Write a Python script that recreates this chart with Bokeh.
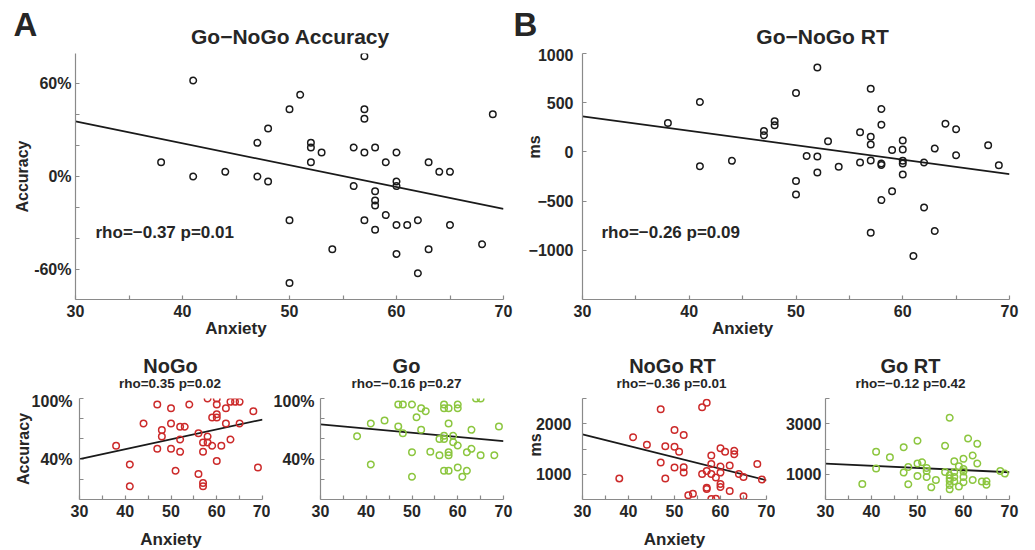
from bokeh.plotting import figure
from bokeh.models import Range1d, FixedTicker, Label, LinearAxis
from bokeh.layouts import column, row
from bokeh.embed import file_html
from bokeh.resources import INLINE

FONT = "Liberation Sans"
TXT = "#262626"
AXC = "#8a8a8a"

# ---------------- data ----------------
fit_x = [30, 70]
x_ticks = [30, 35, 40, 45, 50, 55, 60, 65, 70]
x_labels = ["30", "", "40", "", "50", "", "60", "", "70"]

# A: Go-NoGo Accuracy (%)
A_x = [57, 41, 51, 50, 57, 57, 69, 48, 47, 52, 52, 53, 56, 57, 58, 60, 38, 52, 59, 63, 41, 44, 47, 48, 64, 65,
       56, 60, 60, 58, 58, 58, 59, 50, 57, 58, 60, 61, 62, 65, 54, 60, 63, 68, 62, 50]
A_y = [77.6, 61.9, 52.7, 43.4, 43.4, 37.2, 40.2, 31.0, 21.7, 21.7, 18.7, 15.5, 18.7, 15.5, 18.7, 15.5, 9.2, 9.2,
       9.2, 9.2, 0, 3.0, 0, -3.2, 3.0, 3.0, -6.2, -3.2, -6.2, -9.5, -15.5, -18.7, -24.9, -28.2, -28.2, -34.4,
       -31.2, -31.2, -28.2, -31.2, -46.9, -49.9, -46.9, -43.7, -62.4, -68.6]
A_fit = [35.5, -20.9]
A_yticks = [-60, -40, -20, 0, 20, 40, 60]
A_ylabels = ["-60%", "", "", "0%", "", "", "60%"]

# B: Go-NoGo RT (ms)
B_x = [52, 57, 50, 41, 58, 38, 47, 47, 48, 48, 64, 65, 58, 56, 57, 57, 53, 60, 59, 60, 63, 68, 51, 52, 65, 41,
       44, 56, 57, 58, 58, 60, 60, 62, 54, 69, 52, 60, 50, 50, 59, 58, 62, 57, 63, 61]
B_y = [858, 642, 598, 507, 436, 294, 213, 169, 311, 270, 287, 230, 277, 199, 155, 74, 108, 115, 20, 24, 34, 68,
       -41, -47, -34, -145, -91, -108, -88, -118, -132, -91, -118, -108, -152, -135, -209, -230, -297, -432,
       -399, -490, -564, -821, -804, -1057]
B_fit = [361, -226]
B_yticks = [-1000, -500, 0, 500, 1000]
B_ylabels = ["\u22121000", "\u2212500", "0", "500", "1000"]

# NoGo accuracy (%)
N_x = [47, 50, 54, 58, 60, 60, 60, 60, 59, 62, 63, 64, 65, 68, 44, 50, 52, 53, 48, 48, 62, 65, 56, 58, 52, 57,
       58, 59, 61, 63, 38, 47, 50, 52, 57, 60, 41, 51, 56, 69, 41, 57, 57]
N_y = [94.1, 90.4, 94.1, 100, 100, 94.1, 84.5, 81.2, 81.2, 90.4, 96.7, 96.7, 96.7, 87.5, 75.3, 75.3, 72.0, 72.0,
       68.7, 62.4, 75.3, 75.3, 65.7, 62.4, 59.4, 56.5, 56.5, 53.2, 53.2, 59.4, 53.2, 50.2, 50.2, 47.2, 47.2, 38.0,
       34.7, 28.5, 25.2, 31.8, 13.0, 16.3, 13.0]
N_fit = [40.0, 79.2]

# Go accuracy (%)
G_x = [47, 48, 50, 52, 53, 51, 57, 57, 58, 60, 60, 64, 65, 41, 44, 47, 48, 52, 58, 63, 69, 38, 56, 57, 57, 59,
       59, 60, 50, 54, 56, 58, 58, 62, 63, 65, 68, 41, 60, 57, 58, 62, 50, 61]
G_y = [94.1, 94.1, 94.1, 90.4, 87.5, 81.5, 94.1, 90.4, 90.4, 94.1, 90.4, 100, 100, 75.3, 78.2, 72.3, 65.7, 69.0,
       75.3, 69.0, 72.3, 62.7, 59.8, 63.1, 59.8, 63.1, 56.8, 53.5, 46.9, 47.2, 43.9, 46.9, 43.9, 46.9, 50.2, 43.9,
       43.9, 34.7, 31.8, 28.5, 28.5, 28.5, 22.5, 22.5]
G_fit = [74.3, 57.8]
acc_yticks = [20, 40, 60, 80, 100]
acc_ylabels = ["", "40%", "", "", "100%"]

# NoGo RT (ms)
NR_x = [57, 56, 47, 50, 52, 41, 44, 48, 50, 51, 60, 61, 58, 63, 63, 62, 68, 47, 50, 52, 52, 58, 60, 56, 57, 58,
        59, 60, 64, 65, 38, 48, 60, 60, 57, 57, 62, 53, 54, 58, 59, 65, 69]
NR_y = [2417, 2325, 2285, 1874, 1775, 1735, 1583, 1556, 1543, 1444, 1517, 1444, 1371, 1464, 1397, 1172, 1205,
        1232, 1132, 1139, 1033, 1205, 1152, 1007, 1066, 1007, 934, 1033, 1007, 947, 914, 914, 808, 748, 735, 709,
        669, 583, 616, 510, 517, 563, 894]
NR_fit = [1788, 881]
NR_yticks = [1000, 1500, 2000, 2500]
NR_ylabels = ["1000", "", "2000", ""]

# Go RT (ms)
GR_x = [57, 61, 50, 63, 47, 56, 41, 44, 62, 60, 58, 63, 59, 50, 51, 48, 52, 52, 41, 60, 60, 56, 58, 68, 69, 47,
        57, 57, 57, 57, 57, 58, 58, 50, 52, 60, 60, 54, 62, 64, 65, 65, 38, 48, 53, 59]
GR_y = [3238, 2417, 2325, 2205, 2073, 2126, 1887, 1675, 1742, 1609, 1517, 1424, 1318, 1424, 1477, 1291, 1252,
        1132, 1225, 1212, 1106, 1093, 1093, 1132, 1026, 1066, 960, 841, 735, 576, 404, 894, 722, 934, 894, 894,
        682, 775, 775, 709, 722, 589, 616, 603, 483, 510]
GR_fit = [1424, 1079]
GR_yticks = [1000, 2000, 3000, 4000]
GR_ylabels = ["1000", "", "3000", ""]

RED = "#cc2a2a"
GREEN = "#8cc63f"
BLACK = "#1a1a1a"
BASE_SHIFT = 0.39  # label baseline correction, in font sizes


def make_fig(fw, fh, lb, rb, tb, bb, yr, yticks, ylabels, ystand):
    p = figure(frame_width=fw, frame_height=fh, min_border_left=lb, min_border_right=rb,
               min_border_top=tb, min_border_bottom=bb, x_range=Range1d(30, 70), y_range=Range1d(*yr),
               output_backend="svg", toolbar_location=None, tools="")
    p.outline_line_color = None
    p.grid.visible = False
    p.background_fill_color = "white"
    p.border_fill_color = "white"
    for ax in (p.xaxis[0], p.yaxis[0]):
        ax.axis_line_color = AXC
        ax.axis_line_width = 1.2
        ax.major_tick_line_color = AXC
        ax.major_tick_line_width = 1.2
        ax.major_tick_in = 4
        ax.major_tick_out = 0
        ax.minor_tick_line_color = None
        ax.major_label_text_font = FONT
        ax.major_label_text_font_style = "bold"
        ax.major_label_text_font_size = "16px"
        ax.major_label_text_color = TXT
        ax.axis_label_text_font = FONT
        ax.axis_label_text_font_style = "bold"
        ax.axis_label_text_color = TXT
    p.xaxis[0].ticker = FixedTicker(ticks=x_ticks, minor_ticks=[])
    p.xaxis[0].major_label_overrides = {t: s for t, s in zip(x_ticks, x_labels)}
    p.xaxis[0].major_label_standoff = 5
    p.yaxis[0].ticker = FixedTicker(ticks=yticks, minor_ticks=[])
    p.yaxis[0].major_label_overrides = {t: s for t, s in zip(yticks, ylabels)}
    p.yaxis[0].major_label_standoff = ystand
    return p


def label_axis(p, loc, pos, text, size, standoff, vertical=False):
    ax = LinearAxis(ticker=FixedTicker(ticks=[pos], minor_ticks=[]), major_label_overrides={pos: text},
                    axis_line_color=None, major_tick_line_color=None, minor_tick_line_color=None,
                    major_tick_in=0, major_tick_out=0, major_label_standoff=standoff,
                    major_label_text_font=FONT, major_label_text_font_style="bold",
                    major_label_text_font_size=size, major_label_text_color=TXT)
    if vertical:
        ax.major_label_orientation = "vertical"
    p.add_layout(ax, loc)


def header(w, h):
    p = figure(frame_width=w, frame_height=h, min_border=0, x_range=Range1d(0, w), y_range=Range1d(0, h),
               x_axis_location=None, y_axis_location=None, output_backend="svg", toolbar_location=None,
               tools="")
    p.outline_line_color = None
    p.grid.visible = False
    p.border_fill_color = "white"
    p.background_fill_color = "white"
    return p


def htxt(p, h, x, ytop, text, size, align="left"):
    p.add_layout(Label(x=x, y=h - ytop + BASE_SHIFT * size, x_units="screen", y_units="screen", text=text,
                       text_font=FONT, text_font_size=f"{size}px", text_font_style="bold", text_color=TXT,
                       text_align=align, text_baseline="alphabetic"))


def txt(p, x, y, text, size):
    p.add_layout(Label(x=x, y=y + BASE_SHIFT * size, x_units="screen", y_units="screen", text=text,
                       text_font=FONT, text_font_size=f"{size}px", text_font_style="bold", text_color=TXT,
                       text_align="left", text_baseline="alphabetic"))


def draw(p, xs, ys, fit, color):
    p.line(fit_x, fit, line_color=BLACK, line_width=1.8)
    p.scatter(xs, ys, marker="circle", size=6.5, fill_color=None, line_color=color, line_width=1.5)


# ---------- row 1 header ----------
H1 = 48
h1 = header(1025, H1)
htxt(h1, H1, 13, 37, "A", 33)
htxt(h1, H1, 290, 44.5, "Go\u2212NoGo Accuracy", 21, align="center")
htxt(h1, H1, 513, 37, "B", 33)
htxt(h1, H1, 822, 44.5, "Go\u2212NoGo RT", 21, align="center")

# ---------- row 1 ----------
pA = make_fig(428, 246, 75, 10, 5, 41, (-79.3, 79.3), A_yticks, A_ylabels, 4)
draw(pA, A_x, A_y, A_fit, BLACK)
pA.yaxis[0].axis_label = "Accuracy"
pA.yaxis[0].axis_label_text_font_size = "16px"
pA.yaxis[0].axis_label_standoff = 0
label_axis(pA, "below", 45, "Anxiety", "17px", -1)
txt(pA, 20, 60, "rho=\u22120.37 p=0.01", 17)

pB = make_fig(427, 246, 69, 16, 5, 41, (-1500, 1000), B_yticks, B_ylabels, 9)
draw(pB, B_x, B_y, B_fit, BLACK)
label_axis(pB, "left", 50, "ms", "16px", -18, vertical=True)
label_axis(pB, "below", 45, "Anxiety", "17px", -1)
txt(pB, 19, 60, "rho=\u22120.26 p=0.09", 17)

# ---------- row 2 header ----------
H2 = 52
h2 = header(1025, H2)
for cx, t in [(170, "NoGo"), (406, "Go"), (672, "NoGo RT"), (910, "Go RT")]:
    htxt(h2, H2, cx, 33.5, t, 20, align="center")
for cx, t in [(169.5, "rho=0.35 p=0.02"), (406, "rho=\u22120.16 p=0.27"), (671, "rho=\u22120.36 p=0.01"),
              (910, "rho=\u22120.12 p=0.42")]:
    htxt(h2, H2, cx, 48.5, t, 13.5, align="center")

# ---------- row 2 ----------
p1 = make_fig(183, 101, 79, 8, 6, 50, (0, 100), acc_yticks, acc_ylabels, 7)
draw(p1, N_x, N_y, N_fit, RED)
p1.yaxis[0].axis_label = "Accuracy"
p1.yaxis[0].axis_label_text_font_size = "16px"
p1.yaxis[0].axis_label_standoff = -3
p1.xaxis[0].axis_label = "Anxiety"
p1.xaxis[0].axis_label_text_font_size = "17px"
p1.xaxis[0].axis_label_standoff = 10

p2 = make_fig(183, 101, 50, 12, 6, 50, (0, 100), acc_yticks, acc_ylabels, 6)
draw(p2, G_x, G_y, G_fit, GREEN)

p3 = make_fig(184, 101, 67, 9, 6, 50, (500, 2500), NR_yticks, NR_ylabels, 11)
draw(p3, NR_x, NR_y, NR_fit, RED)
label_axis(p3, "left", 1580, "ms", "16px", -12, vertical=True)
p3.xaxis[0].axis_label = "Anxiety"
p3.xaxis[0].axis_label_text_font_size = "17px"
p3.xaxis[0].axis_label_standoff = 10

p4 = make_fig(184, 101, 50, 16, 6, 50, (0, 4000), GR_yticks, GR_ylabels, 4)
draw(p4, GR_x, GR_y, GR_fit, GREEN)

layout = column(h1, row(pA, pB), h2, row(p1, p2, p3, p4))
open("out.html", "w").write(file_html(layout, INLINE))
